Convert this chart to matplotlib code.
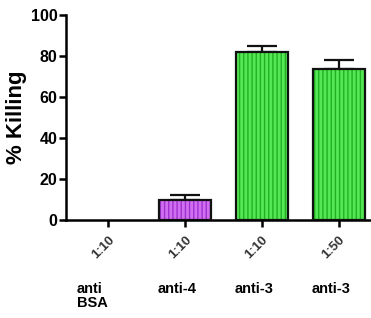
import matplotlib
matplotlib.use("Agg")
import matplotlib.pyplot as plt
import numpy as np

# data
dilutions = ["1:10", "1:10", "1:10", "1:50"]
groups = ["anti\nBSA", "anti-4", "anti-3", "anti-3"]
killing = [0.0, 10.0, 81.8, 73.5]
err = [0.0, 2.3, 3.0, 4.4]
colors = ["#ffffff", "#d070f0", "#55e855", "#55e855"]
hatch_colors = ["#ffffff", "#a030d0", "#22b022", "#22b022"]

plt.rcParams['font.family'] = ['Liberation Sans', 'DejaVu Sans']
plt.rcParams['hatch.linewidth'] = 1.0

fig = plt.figure(figsize=(3.71, 3.18), dpi=100)
ax = fig.add_axes([0.178, 0.308, 0.822, 0.645])

x = np.arange(len(killing))
for i in range(len(killing)):
    if killing[i] <= 0:
        continue
    ax.bar(x[i], killing[i], width=0.68, color=colors[i], edgecolor=hatch_colors[i],
           hatch='||||', linewidth=0, zorder=2)
    ax.bar(x[i], killing[i], width=0.68, color='none', edgecolor='#111111',
           linewidth=1.6, zorder=3)
    ax.errorbar(x[i], killing[i], yerr=[[0], [err[i]]], fmt='none', ecolor='#111111',
                elinewidth=1.6, capsize=11, capthick=1.6, zorder=1)

ax.set_xlim(-0.55, 3.42)
ax.set_ylim(0, 100)
ax.set_yticks([0, 20, 40, 60, 80, 100])
ax.set_xticks(x)
ax.set_xticklabels(dilutions, rotation=45, ha='right', rotation_mode='anchor',
                   fontsize=9.5, fontweight='bold', color='#333333')
for lbl in ax.get_yticklabels():
    lbl.set_fontweight('bold')
    lbl.set_fontsize(11.5)

ax.spines['top'].set_visible(False)
ax.spines['right'].set_visible(False)
ax.spines['left'].set_linewidth(1.8)
ax.spines['bottom'].set_linewidth(1.8)
ax.tick_params(axis='both', direction='out', width=1.8, length=5, pad=1)
ax.tick_params(axis='x', pad=5)

ax.set_ylabel("% Killing", fontsize=16, fontweight='bold')
ax.yaxis.set_label_coords(-0.128, 0.5)

for i in range(len(groups)):
    ax.text(x[i] - 0.41 if i == 0 else x[i] - 0.1, -0.30, groups[i],
            transform=ax.get_xaxis_transform(), ha='left' if i == 0 else 'center',
            va='top', fontsize=10.5, fontweight='bold', linespacing=1.05)

fig.savefig("out.png", dpi=100)
